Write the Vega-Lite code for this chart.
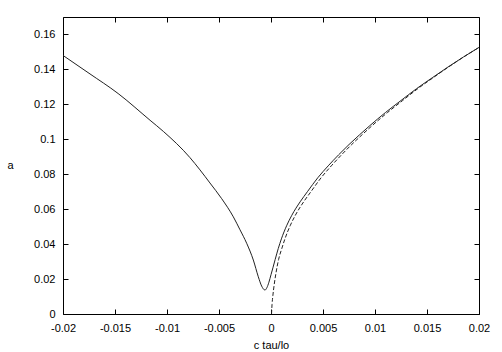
{
  "$schema": "https://vega.github.io/schema/vega-lite/v6.json",
  "width": 416,
  "height": 297,
  "autosize": {"type": "none"},
  "padding": {"left": 63, "top": 17, "right": 23, "bottom": 38},
  "background": "white",
  "config": {
    "view": {"stroke": "black", "strokeWidth": 1},
    "axis": {
      "labelFont": "Liberation Sans",
      "titleFont": "Liberation Sans",
      "labelFontSize": 11,
      "titleFontSize": 11,
      "titleFontWeight": "normal",
      "labelColor": "black",
      "titleColor": "black",
      "domainColor": "black",
      "tickColor": "black",
      "grid": false
    }
  },
  "datasets": {
    "solid": [
      {"x": -0.020, "a": 0.1480},
      {"x": -0.0175, "a": 0.1378},
      {"x": -0.0147, "a": 0.1262},
      {"x": -0.01163, "a": 0.1109},
      {"x": -0.01035, "a": 0.1045},
      {"x": -0.00779, "a": 0.0895},
      {"x": -0.00683, "a": 0.0825},
      {"x": -0.00587, "a": 0.0750},
      {"x": -0.00474, "a": 0.0660},
      {"x": -0.00362, "a": 0.0556},
      {"x": -0.00298, "a": 0.0482},
      {"x": -0.00234, "a": 0.0405},
      {"x": -0.0017, "a": 0.0309},
      {"x": -0.00122, "a": 0.0213},
      {"x": -0.0009, "a": 0.0160},
      {"x": -0.00058, "a": 0.0137},
      {"x": -0.0004, "a": 0.0150},
      {"x": -0.0002, "a": 0.0182},
      {"x": 0.0, "a": 0.0225},
      {"x": 0.0002, "a": 0.0268},
      {"x": 0.0004, "a": 0.0312},
      {"x": 0.0007, "a": 0.0375},
      {"x": 0.001, "a": 0.0430},
      {"x": 0.0015, "a": 0.0505},
      {"x": 0.002, "a": 0.0565},
      {"x": 0.0028, "a": 0.0642},
      {"x": 0.0035, "a": 0.0700},
      {"x": 0.0045, "a": 0.0780},
      {"x": 0.0055, "a": 0.0848},
      {"x": 0.0065, "a": 0.0911},
      {"x": 0.0075, "a": 0.0970},
      {"x": 0.0085, "a": 0.1025},
      {"x": 0.0095, "a": 0.1078},
      {"x": 0.011, "a": 0.1153},
      {"x": 0.0125, "a": 0.1222},
      {"x": 0.014, "a": 0.1290},
      {"x": 0.0155, "a": 0.1352},
      {"x": 0.017, "a": 0.1413},
      {"x": 0.0185, "a": 0.1471},
      {"x": 0.020, "a": 0.1526}
    ],
    "dashed": [
      {"x": 0.00005, "a": 0.0},
      {"x": 0.0001, "a": 0.0055},
      {"x": 0.00018, "a": 0.0105},
      {"x": 0.0003, "a": 0.0165},
      {"x": 0.00048, "a": 0.0235},
      {"x": 0.00073, "a": 0.0312},
      {"x": 0.00104, "a": 0.0375},
      {"x": 0.00134, "a": 0.0430},
      {"x": 0.00184, "a": 0.0505},
      {"x": 0.00234, "a": 0.0565},
      {"x": 0.00314, "a": 0.0642},
      {"x": 0.00384, "a": 0.0700},
      {"x": 0.00482, "a": 0.0780},
      {"x": 0.0058, "a": 0.0848},
      {"x": 0.00678, "a": 0.0911},
      {"x": 0.00776, "a": 0.0970},
      {"x": 0.00874, "a": 0.1025},
      {"x": 0.00972, "a": 0.1078},
      {"x": 0.0112, "a": 0.1153},
      {"x": 0.01266, "a": 0.1222},
      {"x": 0.01412, "a": 0.1290},
      {"x": 0.01558, "a": 0.1352},
      {"x": 0.01705, "a": 0.1413},
      {"x": 0.01852, "a": 0.1471},
      {"x": 0.020, "a": 0.1526}
    ]
  },
  "layer": [
    {
      "data": {"name": "solid"},
      "mark": {"type": "line", "color": "#222222", "strokeWidth": 1, "interpolate": "monotone", "clip": true},
      "encoding": {
        "x": {
          "field": "x", "type": "quantitative",
          "scale": {"domain": [-0.02, 0.02], "nice": false, "zero": false},
          "axis": {
            "orient": "bottom",
            "values": [-0.02, -0.015, -0.01, -0.005, 0, 0.005, 0.01, 0.015, 0.02],
            "labelExpr": "'' + datum.value",
            "tickSize": -5,
            "labelPadding": 13,
            "labelFlush": false,
            "labelOverlap": false,
            "domain": false,
            "title": "c tau/lo",
            "titleY": 31,
            "titleBaseline": "middle"
          }
        },
        "y": {
          "field": "a", "type": "quantitative",
          "scale": {"domain": [0, 0.17], "nice": false, "zero": false},
          "axis": {
            "orient": "left",
            "values": [0, 0.02, 0.04, 0.06, 0.08, 0.1, 0.12, 0.14, 0.16],
            "labelExpr": "'' + datum.value",
            "tickSize": -5,
            "labelPadding": 13,
            "labelFlush": false,
            "labelOverlap": false,
            "domain": false,
            "title": "a",
            "titleAngle": 0,
            "titleX": -53,
            "titleY": 148,
            "titleAlign": "center",
            "titleBaseline": "middle"
          }
        }
      }
    },
    {
      "data": {"name": "dashed"},
      "mark": {"type": "line", "color": "#222222", "strokeWidth": 1, "strokeDash": [4, 2], "interpolate": "monotone", "clip": true},
      "encoding": {
        "x": {
          "field": "x", "type": "quantitative",
          "axis": {
            "orient": "top",
            "values": [-0.02, -0.015, -0.01, -0.005, 0, 0.005, 0.01, 0.015, 0.02],
            "labels": false,
            "tickSize": -5,
            "domain": false,
            "title": null
          }
        },
        "y": {
          "field": "a", "type": "quantitative",
          "axis": {
            "orient": "right",
            "values": [0, 0.02, 0.04, 0.06, 0.08, 0.1, 0.12, 0.14, 0.16],
            "labels": false,
            "tickSize": -5,
            "domain": false,
            "title": null
          }
        }
      }
    }
  ],
  "resolve": {"axis": {"x": "independent", "y": "independent"}}
}
